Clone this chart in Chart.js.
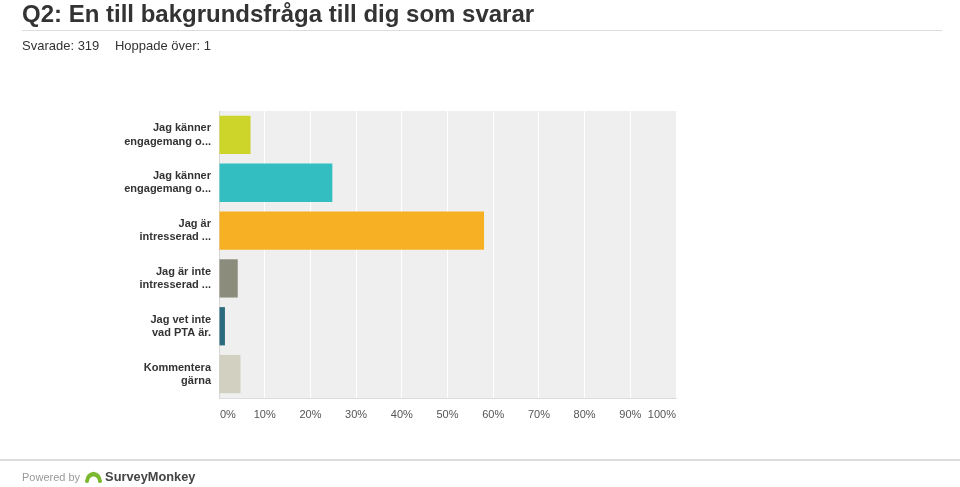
<!DOCTYPE html>
<html>
<head>
<meta charset="utf-8">
<script src="https://cdn.jsdelivr.net/npm/chart.js@4.4.1/dist/chart.umd.min.js"></script>
<style>
  body { margin: 0; background: #fff; font-family: Arial, "Liberation Sans", sans-serif; }
  #wrap { position: relative; width: 960px; height: 487px; overflow: hidden; }
  #myChart { position: absolute; left: 0; top: 0; }
  h1 { position: absolute; left: 22px; top: 0px; margin: 0; font-size: 24px; font-weight: bold; color: #333; white-space: nowrap; }
  .rule { position: absolute; left: 22px; right: 18px; top: 30px; border-top: 1px solid #ddd; }
  .stats { position: absolute; left: 22px; top: 38px; font-size: 13px; color: #333; white-space: nowrap; }
  .stats span { margin-left: 12px; }
  .foot { position: absolute; left: 0; right: 0; top: 459px; border-top: 2px solid #ddd; }
  .powered { position: absolute; left: 22px; top: 469px; font-size: 11px; color: #999; white-space: nowrap; display: flex; align-items: center; }
  .powered svg { margin-left: 4px; }
  .brand { font-size: 12.8px; font-weight: bold; color: #444; margin-left: 2px; }
</style>
</head>
<body>
<div id="wrap">
  <canvas id="myChart" width="960" height="487"></canvas>
  <h1>Q2: En till bakgrundsfråga till dig som svarar</h1>
  <div class="rule"></div>
  <div class="stats">Svarade: 319 <span>Hoppade över: 1</span></div>
  <div class="foot"></div>
  <div class="powered">Powered by
    <svg width="19" height="13" viewBox="0 0 20 14"><path d="M1 12 Q2 3 10 2 Q18 3 19 12 L15 12 Q14 7 10 7 Q6 7 5 12 Z" fill="#7cb82f"/><circle cx="3" cy="12" r="2" fill="#7cb82f"/><circle cx="17" cy="12" r="2" fill="#7cb82f"/></svg>
    <span class="brand">SurveyMonkey</span>
  </div>
</div>
<script>
const categories = [
  ['Jag känner', 'engagemang o...'],
  ['Jag känner', 'engagemang o...'],
  ['Jag är', 'intresserad ...'],
  ['Jag är inte', 'intresserad ...'],
  ['Jag vet inte', 'vad PTA är.'],
  ['Kommentera', 'gärna']
];
const percentValues = [6.9, 24.8, 58.0, 4.1, 1.3, 4.7];
const barColors = ['#cdd52b', '#33bfc1', '#f7b023', '#8b8c7b', '#2c6b7d', '#d1d0c1'];
const tickValues = [0, 10, 20, 30, 40, 50, 60, 70, 80, 90, 100];

const tickFont = '11px Arial';
const tickColor = '#555';

// fond gris de la zone de tracé
const plotBg = {
  id: 'plotBg',
  beforeDraw(chart) {
    const { ctx, chartArea: a } = chart;
    ctx.save();
    ctx.fillStyle = '#efefef';
    ctx.fillRect(a.left, a.top, a.right - a.left, a.bottom - a.top);
    ctx.restore();
  },
  // les étiquettes 0% et 100% sont calées sur les bords
  afterDraw(chart) {
    const { ctx } = chart;
    const xs = chart.scales.x;
    const y = xs.top + 11;
    ctx.save();
    ctx.font = tickFont;
    ctx.fillStyle = tickColor;
    ctx.textBaseline = 'top';
    ctx.textAlign = 'left';
    ctx.fillText(tickValues[0] + '%', xs.getPixelForValue(tickValues[0]) + 1, y);
    ctx.textAlign = 'right';
    const last = tickValues[tickValues.length - 1];
    ctx.fillText(last + '%', xs.getPixelForValue(last), y);
    ctx.restore();
  }
};

const ctxt = document.getElementById('myChart').getContext('2d');

const myChart = new Chart(ctxt, {
  type: 'bar',
  data: {
    labels: categories,
    datasets: [{
      data: percentValues,
      backgroundColor: barColors,
      borderWidth: 0,
      categoryPercentage: 0.8,
      barPercentage: 1.0
    }]
  },
  plugins: [plotBg],
  options: {
    indexAxis: 'y',
    responsive: false,
    animation: false,
    layout: { padding: { left: 0, top: 111, right: 284, bottom: 59 } },
    plugins: { legend: { display: false }, tooltip: { enabled: false } },
    scales: {
      x: {
        min: 0,
        max: 100,
        afterBuildTicks: (s) => { s.ticks = tickValues.map(v => ({ value: v })); },
        afterFit: (s) => { s.height = 30; },
        grid: { color: '#ffffff', lineWidth: 1, drawTicks: false },
        border: { display: true, color: '#dcdcdc', width: 1 },
        ticks: {
          padding: 10,
          color: tickColor,
          font: { family: 'Arial', size: 11 },
          maxRotation: 0,
          autoSkip: false,
          callback: (v) => (v === 0 || v === 100) ? '' : v + '%'
        }
      },
      y: {
        afterFit: (s) => { s.width = 219; },
        grid: { display: false, drawTicks: false },
        border: { display: true, color: '#d6d6d6', width: 1 },
        ticks: {
          padding: 8,
          color: '#333',
          font: { family: 'Arial', size: 11, weight: 'bold', lineHeight: 1.2 }
        }
      }
    }
  }
});
</script>
</body>
</html>
